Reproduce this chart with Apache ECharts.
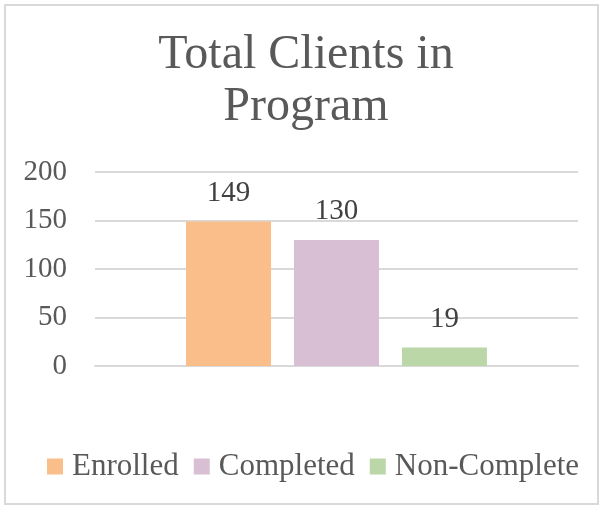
<!DOCTYPE html>
<html>
<head>
<meta charset="utf-8">
<script src="https://cdn.jsdelivr.net/npm/echarts@6/dist/echarts.min.js"></script>
<style>
  html, body { margin: 0; padding: 0; background: #fff; }
  #frame { position: absolute; left: 4px; top: 4px; width: 591px; height: 497px; border: 2px solid #d9d9d9; }
  #chart { position: absolute; left: 0; top: 0; width: 602px; height: 506px; }
</style>
</head>
<body>
<div id="frame"></div>
<div id="chart"></div>
<script>
// chart data
const seriesNames = ['Enrolled', 'Completed', 'Non-Complete']
const seriesValues = [149, 130, 19]
const seriesColors = ['#f9be8a', '#d8bfd3', '#bbd7a8']
const yTicks = [0, 50, 100, 150, 200]

const font = '"Liberation Serif", "DejaVu Serif", serif'
let chart = echarts.init(document.getElementById('chart'))

let series = seriesNames.map(function (name, i) {
  return {
    name: name,
    type: 'bar',
    data: [seriesValues[i]],
    barWidth: 85,
    barGap: '27%',
    itemStyle: { color: seriesColors[i] },
    label: {
      show: true,
      position: 'top',
      distance: 14,
      fontFamily: font,
      fontSize: 29,
      color: '#404040'
    }
  }
})

let option = {
  animation: false,
  backgroundColor: 'transparent',
  title: {
    text: 'Total Clients in\nProgram',
    left: 301,
    top: 24,
    textAlign: 'center',
    textStyle: {
      fontFamily: font,
      fontWeight: 'normal',
      fontSize: 48,
      lineHeight: 52,
      color: '#595959'
    }
  },
  legend: {
    data: seriesNames,
    left: 42,
    top: 446,
    itemWidth: 16,
    itemHeight: 16,
    itemGap: 15,
    icon: 'rect',
    textStyle: {
      fontFamily: font,
      fontSize: 31,
      color: '#595959',
      padding: [0, 0, 0, 4]
    }
  },
  grid: {
    left: 95,
    right: 24,
    top: 172,
    bottom: 140,
    containLabel: false
  },
  xAxis: {
    type: 'category',
    data: [''],
    axisLine: { lineStyle: { color: '#d9d9d9', width: 2 } },
    axisTick: { show: false },
    axisLabel: { show: false }
  },
  yAxis: {
    type: 'value',
    min: yTicks[0],
    max: yTicks[yTicks.length - 1],
    interval: 50,
    axisLine: { show: false },
    axisTick: { show: false },
    splitLine: { lineStyle: { color: '#d9d9d9', width: 2 } },
    axisLabel: {
      margin: 28,
      fontFamily: font,
      fontSize: 29,
      color: '#595959'
    }
  },
  series: series
}

chart.setOption(option)
</script>
</body>
</html>
